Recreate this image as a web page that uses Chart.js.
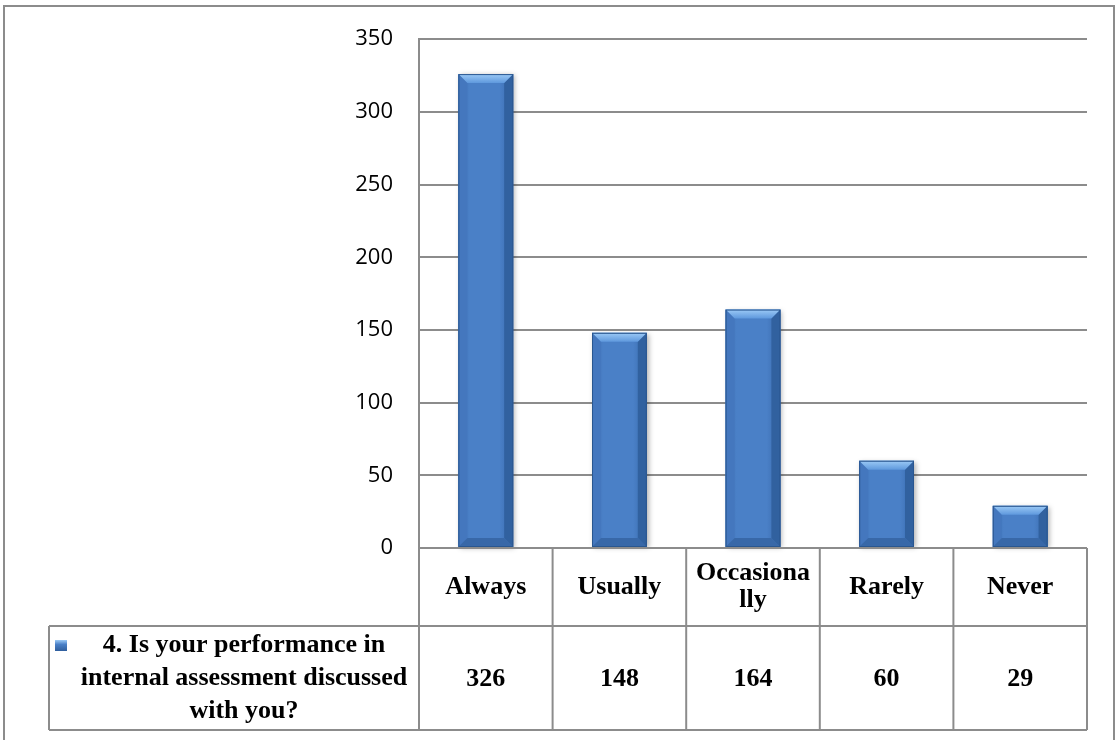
<!DOCTYPE html>
<html><head><meta charset="utf-8">
<script src="https://cdn.jsdelivr.net/npm/chart.js@4/dist/chart.umd.min.js"></script>
<style>html,body{margin:0;padding:0;background:#fff;}</style>
</head><body>
<canvas id="c" width="1116" height="740"></canvas>
<script>
const categories = ['Always', 'Usually', ['Occasiona', 'lly'], 'Rarely', 'Never'];
const seriesName = ['4. Is your performance in', 'internal assessment discussed', 'with you?'];
const values = [326, 148, 164, 60, 29];
const yMin = 0, yMax = 350, yStep = 50;

const LINE = '#8c8c8c';

function line(ctx, x1, y1, x2, y2) {
  ctx.beginPath(); ctx.moveTo(x1, y1); ctx.lineTo(x2, y2); ctx.stroke();
}

const frame = {
  id: 'frame',
  afterDraw(chart) {
    const ctx = chart.ctx;
    ctx.save();
    ctx.strokeStyle = LINE; ctx.lineWidth = 2;
    ctx.beginPath();
    ctx.moveTo(4, 745); ctx.lineTo(4, 6); ctx.lineTo(1114, 6); ctx.lineTo(1114, 745);
    ctx.stroke();
    ctx.restore();
  }
};

const bevel = {
  id: 'bevel',
  afterDatasetsDraw(chart) {
    const ctx = chart.ctx;
    const meta = chart.getDatasetMeta(0);
    meta.data.forEach(bar => {
      const p = bar.getProps(['x', 'y', 'base', 'width'], true);
      const l = p.x - p.width / 2, r = p.x + p.width / 2, t = p.y, b = p.base;
      const bv = Math.min(9, (b - t) / 3);
      ctx.save();
      ctx.shadowColor = 'rgba(0,0,0,0.3)';
      ctx.shadowBlur = 5; ctx.shadowOffsetX = 2; ctx.shadowOffsetY = 1;
      let g = ctx.createLinearGradient(l, 0, r, 0);
      g.addColorStop(0, '#3a6db0');
      g.addColorStop(0.2, '#4a80c7');
      g.addColorStop(0.75, '#4a80c7');
      g.addColorStop(1, '#3768aa');
      ctx.fillStyle = g;
      ctx.fillRect(l, t, r - l, b - t);
      ctx.shadowColor = 'transparent';
      ctx.fillStyle = '#4477be';
      ctx.beginPath(); ctx.moveTo(l, t); ctx.lineTo(l + bv, t + bv); ctx.lineTo(l + bv, b - bv); ctx.lineTo(l, b); ctx.closePath(); ctx.fill();
      ctx.fillStyle = '#31619f';
      ctx.beginPath(); ctx.moveTo(r, t); ctx.lineTo(r - bv, t + bv); ctx.lineTo(r - bv, b - bv); ctx.lineTo(r, b); ctx.closePath(); ctx.fill();
      ctx.fillStyle = '#3868a8';
      ctx.beginPath(); ctx.moveTo(l, b); ctx.lineTo(l + bv, b - bv); ctx.lineTo(r - bv, b - bv); ctx.lineTo(r, b); ctx.closePath(); ctx.fill();
      g = ctx.createLinearGradient(0, t, 0, t + bv);
      g.addColorStop(0, '#9ccaf6');
      g.addColorStop(1, '#5e98dd');
      ctx.fillStyle = g;
      ctx.beginPath(); ctx.moveTo(l, t); ctx.lineTo(r, t); ctx.lineTo(r - bv, t + bv); ctx.lineTo(l + bv, t + bv); ctx.closePath(); ctx.fill();
      ctx.strokeStyle = '#2a5790'; ctx.lineWidth = 1;
      ctx.strokeRect(l + 0.5, t + 0.5, r - l - 1, b - t - 1);
      ctx.restore();
    });
  }
};

const table = {
  id: 'table',
  afterDraw(chart) {
    const ctx = chart.ctx, ca = chart.chartArea;
    const n = categories.length;
    const cw = (ca.right - ca.left) / n;
    const r0 = ca.bottom, r1 = ca.bottom + 78, r2 = ca.bottom + 182;
    const legL = 49;
    ctx.save();
    ctx.strokeStyle = LINE; ctx.lineWidth = 2;
    line(ctx, ca.left, r0, ca.right, r0);
    line(ctx, legL, r1, ca.right, r1);
    line(ctx, legL, r2, ca.right, r2);
    for (let i = 0; i <= n; i++) line(ctx, ca.left + i * cw, r0, ca.left + i * cw, r2);
    line(ctx, legL, r1, legL, r2);

    ctx.fillStyle = '#000';
    ctx.font = 'bold 26px "Liberation Serif"';
    ctx.textAlign = 'center'; ctx.textBaseline = 'middle';
    categories.forEach((c, i) => {
      const cx = ca.left + (i + 0.5) * cw;
      const lines = Array.isArray(c) ? c : [c];
      const lh = 27;
      lines.forEach((s, j) => ctx.fillText(s, cx, (r0 + r1) / 2 + (j - (lines.length - 1) / 2) * lh));
    });
    values.forEach((v, i) => ctx.fillText(String(v), ca.left + (i + 0.5) * cw, (r1 + r2) / 2 + 1));

    const lh2 = 33;
    seriesName.forEach((s, j) => ctx.fillText(s, 244, (r1 + r2) / 2 + (j - (seriesName.length - 1) / 2) * lh2));
    const mx = 55, my = 640, mw = 12, mh = 11;
    let g = ctx.createLinearGradient(0, my, 0, my + mh);
    g.addColorStop(0, '#9ccaf6'); g.addColorStop(0.4, '#4a80c7'); g.addColorStop(1, '#2f5e9d');
    ctx.fillStyle = g;
    ctx.fillRect(mx, my, mw, mh);
    ctx.restore();
  }
};

new Chart(document.getElementById('c'), {
  type: 'bar',
  data: {
    labels: categories,
    datasets: [{
      label: seriesName.join(' '),
      data: values,
      backgroundColor: '#4a80c7',
      borderWidth: 0,
      categoryPercentage: 1,
      barPercentage: 0.41
    }]
  },
  options: {
    responsive: false,
    animation: false,
    devicePixelRatio: 1,
    layout: { padding: { left: 0, top: 35, right: 29, bottom: 192 } },
    plugins: { legend: { display: false }, tooltip: { enabled: false } },
    scales: {
      x: { display: false },
      y: {
        min: yMin, max: yMax,
        ticks: { stepSize: yStep, color: '#000', padding: 26, font: { family: 'Open Sans', size: 22 } },
        grid: { color: LINE, lineWidth: 2, drawTicks: false },
        border: { color: LINE, width: 2 },
        afterFit(scale) { scale.width = 419; }
      }
    }
  },
  plugins: [bevel, table, frame]
});
</script>
</body></html>
